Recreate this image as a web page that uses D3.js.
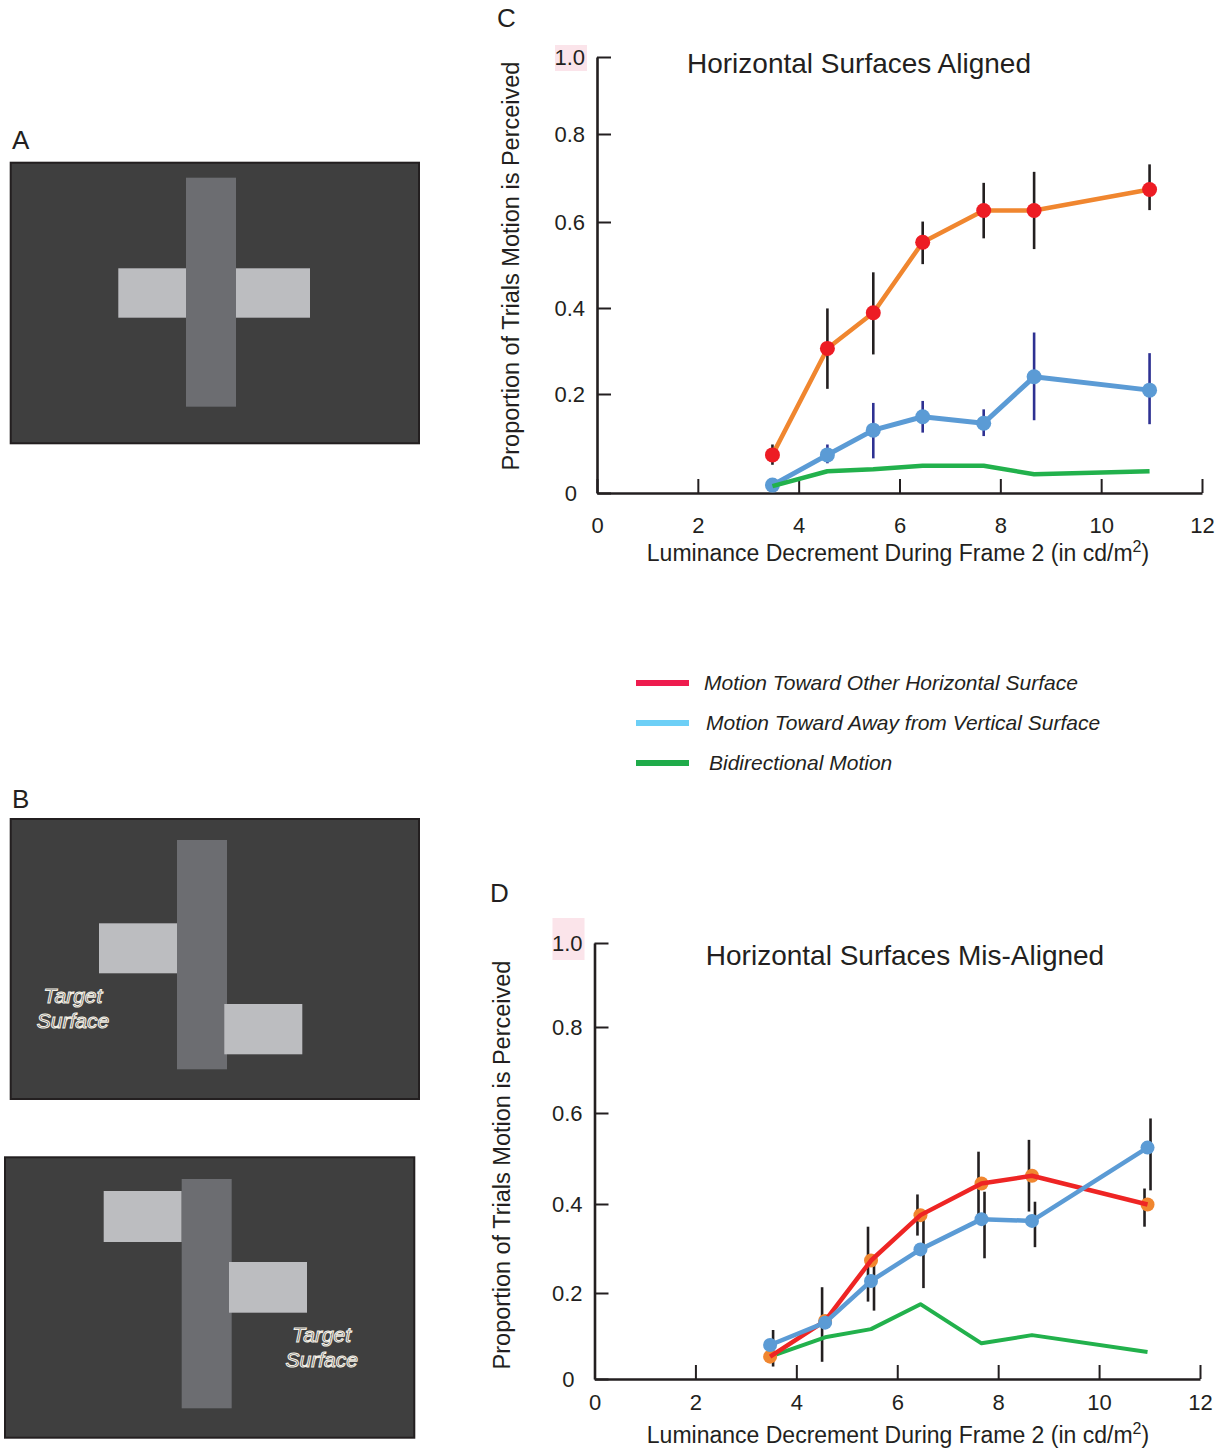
<!DOCTYPE html>
<html>
<head>
<meta charset="utf-8">
<script src="https://cdn.jsdelivr.net/npm/d3@7"></script>
<style>
  body { margin: 0; background: #fff; }
  svg { display: block; font-family: "Liberation Sans", Arial, Helvetica, sans-serif; }
</style>
</head>
<body>
<svg id="fig" width="1228" height="1450"></svg>
<script>
// luminance decrement levels (cd/m2), same for both experiments
var luminance = [3.48, 4.57, 5.48, 6.46, 7.67, 8.67, 10.96];
var xTicks = [0, 2, 4, 6, 8, 10, 12];
var yTicks = [0, 0.2, 0.4, 0.6, 0.8, 1.0];

// C - horizontal surfaces aligned
var alignedOther   = [0.077, 0.306, 0.389, 0.553, 0.626, 0.626, 0.674];
var alignedOtherHi = [0.098, 0.399, 0.483, 0.601, 0.689, 0.714, 0.731];
var alignedOtherLo = [0.057, 0.212, 0.292, 0.502, 0.562, 0.537, 0.627];
var alignedAway    = [0.016, 0.077, 0.127, 0.154, 0.141, 0.240, 0.209];
var alignedAwayHi  = [null, 0.098, 0.182, 0.186, 0.169, 0.343, 0.295];
var alignedAwayLo  = [null, 0.060, 0.070, 0.122, 0.115, 0.147, 0.139];
var alignedBi      = [0.014, 0.044, 0.048, 0.055, 0.055, 0.038, 0.044];

// D - horizontal surfaces mis-aligned
var misOther   = [0.052, 0.135, 0.273, 0.375, 0.445, 0.462, 0.399];
var misOtherHi = [null, 0.213, 0.349, 0.421, 0.515, 0.541, 0.434];
var misOtherLo = [null, 0.040, 0.180, 0.329, 0.375, 0.383, 0.349];
var misAway    = [0.079, 0.131, 0.227, 0.298, 0.366, 0.362, 0.524];
var misAwayHi  = [0.114, null, 0.275, 0.364, 0.427, 0.405, 0.588];
var misAwayLo  = [0.029, null, 0.159, 0.211, 0.278, 0.303, 0.430];
var misBi      = [0.052, 0.097, 0.116, 0.174, 0.083, 0.102, 0.063];

var legendLabels = [
  'Motion Toward Other Horizontal Surface',
  'Motion Toward Away from Vertical Surface',
  'Bidirectional Motion'
];
var legendColors = ['#ee1c4e', '#6dcff6', '#1fab4a'];

var INK = '#231f20';
var svg = d3.select('#fig');

function series(vals, hi, lo, o) {
  return Object.assign({vals: vals, hi: hi, lo: lo}, o);
}

// the hand drawn axes are not evenly spaced, so the y scale is piecewise
function drawChart(cfg) {
  var g = svg.append('g');
  var x = d3.scaleLinear().domain([0, 12]).range([cfg.left, cfg.right]);
  var y = d3.scaleLinear().domain(yTicks).range(cfg.yRange);

  // pink highlight behind the 1.0 label
  g.append('rect')
    .attr('x', cfg.left - 42).attr('y', y(1) - cfg.pinkUp)
    .attr('width', 32).attr('height', cfg.pinkH)
    .attr('fill', '#fbe4ea');

  var yAxis = g.append('g')
    .attr('transform', 'translate(' + cfg.left + ',0)')
    .call(d3.axisLeft(y).tickValues(yTicks).tickSize(-14).tickSizeOuter(0).tickPadding(12)
      .tickFormat(function(d) { return d === 0 ? '0' : d3.format('.1f')(d); }));

  var xAxis = g.append('g')
    .attr('transform', 'translate(0,' + y(0) + ')')
    .call(d3.axisBottom(x).tickValues(xTicks).tickSize(-14).tickSizeOuter(0).tickPadding(cfg.xPad)
      .tickFormat(d3.format('d')));

  [yAxis, xAxis].forEach(function(a) {
    a.attr('font-family', null).attr('font-size', null);
    a.select('.domain').attr('stroke', INK).attr('stroke-width', 2.6);
    a.selectAll('.tick line').attr('stroke', INK).attr('stroke-width', 2);
    a.selectAll('.tick text').attr('fill', INK).style('font-size', '22px');
  });
  yAxis.select('.tick text').attr('dx', -8); // the "0" sits a bit further left

  // titles
  g.append('text')
    .attr('x', cfg.titleX).attr('y', cfg.titleY)
    .attr('text-anchor', 'middle').attr('fill', INK)
    .style('font-size', '28px').text(cfg.title);

  g.append('text')
    .attr('transform', 'translate(' + cfg.yLabelX + ',' + cfg.yLabelY + ') rotate(-90)')
    .attr('text-anchor', 'middle').attr('dy', '0.35em').attr('fill', INK)
    .style('font-size', '23.5px').text('Proportion of Trials Motion is Perceived');

  var xl = g.append('text')
    .attr('x', cfg.xLabelX).attr('y', cfg.xLabelY)
    .attr('text-anchor', 'middle').attr('fill', INK)
    .style('font-size', '23px');
  xl.append('tspan').text('Luminance Decrement During Frame 2 (in cd/m');
  xl.append('tspan').attr('dy', -9).style('font-size', '16px').text('2');
  xl.append('tspan').attr('dy', 9).text(')');

  g.append('text')
    .attr('x', cfg.letterX).attr('y', cfg.letterY).attr('fill', INK)
    .style('font-size', '26px').text(cfg.letter);

  // error bars first, then lines and points in the given order
  cfg.series.forEach(function(s) {
    if (!s.hi) return;
    var idx = d3.range(s.vals.length).filter(function(i) { return s.hi[i] != null; });
    g.append('g').selectAll('line').data(idx).join('line')
      .attr('x1', function(i) { return x(luminance[i]) + (s.dodge || 0); })
      .attr('x2', function(i) { return x(luminance[i]) + (s.dodge || 0); })
      .attr('y1', function(i) { return y(s.hi[i]); })
      .attr('y2', function(i) { return y(s.lo[i]); })
      .attr('stroke', s.barColor).attr('stroke-width', 2.6);
  });

  var line = d3.line()
    .x(function(d, i) { return x(luminance[i]); })
    .y(function(d) { return y(d); });

  cfg.order.forEach(function(step) {
    var s = cfg.series[step.s];
    if (step.kind === 'line') {
      g.append('path').datum(s.vals)
        .attr('d', line).attr('fill', 'none')
        .attr('stroke', s.lineColor).attr('stroke-width', s.lineWidth)
        .attr('stroke-linejoin', 'round');
    } else {
      g.append('g').selectAll('circle').data(s.vals).join('circle')
        .attr('cx', function(d, i) { return x(luminance[i]); })
        .attr('cy', function(d) { return y(d); })
        .attr('r', cfg.radius).attr('fill', s.pointColor);
    }
  });
}

drawChart({
  letter: 'C', letterX: 497, letterY: 27,
  left: 597, right: 1202,
  yRange: [493, 394, 308, 222, 134, 57],
  xPad: 24, pinkUp: 12, pinkH: 26,
  title: 'Horizontal Surfaces Aligned', titleX: 859, titleY: 73,
  yLabelX: 511, yLabelY: 266,
  xLabelX: 898, xLabelY: 561,
  radius: 7.5,
  series: [
    series(alignedOther, alignedOtherHi, alignedOtherLo,
      {lineColor: '#f0862f', pointColor: '#ed1c24', barColor: INK, lineWidth: 4.5}),
    series(alignedAway, alignedAwayHi, alignedAwayLo,
      {lineColor: '#5b9bd5', pointColor: '#5b9bd5', barColor: '#2e3192', lineWidth: 5}),
    series(alignedBi, null, null, {lineColor: '#22b14c', lineWidth: 4.5})
  ],
  order: [{s: 0, kind: 'line'}, {s: 0, kind: 'pts'}, {s: 1, kind: 'line'},
          {s: 1, kind: 'pts'}, {s: 2, kind: 'line'}]
});

drawChart({
  letter: 'D', letterX: 490, letterY: 902,
  left: 594.5, right: 1200,
  yRange: [1379, 1293, 1204, 1113, 1027, 943],
  xPad: 15, pinkUp: 25, pinkH: 42,
  title: 'Horizontal Surfaces Mis-Aligned', titleX: 905, titleY: 965,
  yLabelX: 502, yLabelY: 1165,
  xLabelX: 898, xLabelY: 1443,
  radius: 7,
  series: [
    series(misOther, misOtherHi, misOtherLo,
      {lineColor: '#ee2524', pointColor: '#f0862f', barColor: INK, lineWidth: 4.5, dodge: -3}),
    series(misAway, misAwayHi, misAwayLo,
      {lineColor: '#5b9bd5', pointColor: '#5b9bd5', barColor: INK, lineWidth: 4.5, dodge: 3}),
    series(misBi, null, null, {lineColor: '#22b14c', lineWidth: 4})
  ],
  order: [{s: 2, kind: 'line'}, {s: 0, kind: 'pts'}, {s: 0, kind: 'line'},
          {s: 1, kind: 'line'}, {s: 1, kind: 'pts'}]
});

// legend between the two charts
var leg = svg.append('g').selectAll('g').data(legendLabels).join('g')
  .attr('transform', function(d, i) { return 'translate(636,' + (683 + i * 40) + ')'; });
leg.append('line')
  .attr('x1', 0).attr('x2', 53)
  .attr('stroke', function(d, i) { return legendColors[i]; })
  .attr('stroke-width', 6);
leg.append('text')
  .attr('x', function(d, i) { return [68, 70, 73][i]; })
  .attr('dy', '0.35em').attr('fill', INK)
  .style('font-size', '21px').style('font-style', 'italic')
  .text(function(d) { return d; });

// stimulus schematics A and B (background, vertical bar, horizontal bars)
var panels = [
  {frame: [10.7, 162.7, 408.3, 280.6], vert: [186, 177.7, 50, 229],
   bars: [[118.3, 268.3, 191.7, 49.4]], label: 'A', labelY: 149},
  {frame: [10.7, 819, 408.3, 280], vert: [177, 840, 50, 229.3],
   bars: [[99, 923.3, 78, 50], [224.3, 1004, 78, 50.3]], label: 'B', labelY: 808,
   target: [73, 996]},
  {frame: [5, 1157.3, 409.3, 280.4], vert: [181.7, 1179, 50, 229.3],
   bars: [[103.7, 1191, 78, 51], [229, 1262, 78, 50.7]], target: [321.7, 1335]}
];

panels.forEach(function(p) {
  var g = svg.append('g');
  g.append('rect')
    .attr('x', p.frame[0]).attr('y', p.frame[1])
    .attr('width', p.frame[2]).attr('height', p.frame[3])
    .attr('fill', '#3f3f3f').attr('stroke', INK).attr('stroke-width', 2);
  // in A the horizontal bar sits under the vertical one, in B the right bar overlaps it
  var rects = p.bars.length === 1 ? [['h', p.bars[0]], ['v', p.vert]]
    : [['h', p.bars[0]], ['v', p.vert], ['h', p.bars[1]]];
  rects.forEach(function(r) {
    g.append('rect')
      .attr('x', r[1][0]).attr('y', r[1][1])
      .attr('width', r[1][2]).attr('height', r[1][3])
      .attr('fill', r[0] === 'v' ? '#6c6d71' : '#bcbdc0');
  });
  if (p.label) {
    g.append('text').attr('x', 12).attr('y', p.labelY).attr('fill', INK)
      .style('font-size', '26px').text(p.label);
  }
  if (p.target) {
    g.selectAll('text.target').data(['Target', 'Surface']).join('text')
      .attr('class', 'target')
      .attr('x', p.target[0]).attr('y', function(d, i) { return p.target[1] + i * 25; })
      .attr('text-anchor', 'middle').attr('dy', '0.35em')
      .attr('fill', '#3f3f3f').attr('stroke', '#f4f0e6').attr('stroke-width', 1.1)
      .style('font-size', '21px').style('font-style', 'italic')
      .text(function(d) { return d; });
  }
});
</script>
</body>
</html>
